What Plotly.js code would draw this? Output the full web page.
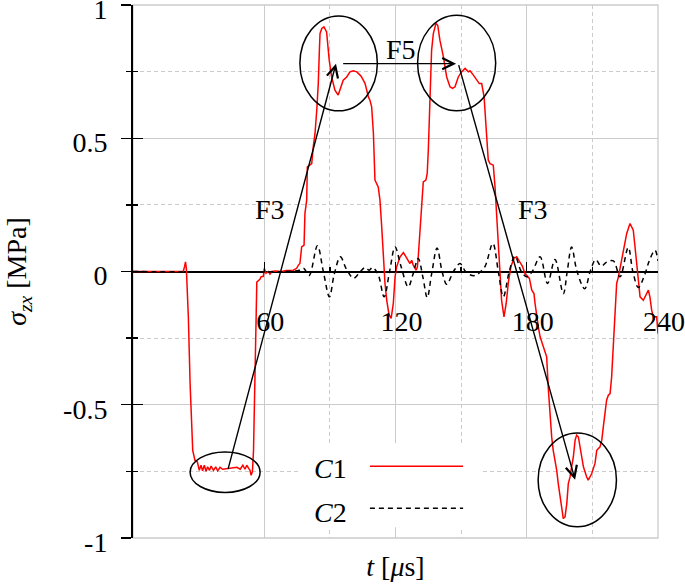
<!DOCTYPE html>
<html><head><meta charset="utf-8">
<script src="https://cdn.plot.ly/plotly-3.0.1.min.js"></script>
<style>html,body{margin:0;padding:0;background:#fff;} #chart{width:685px;height:587px;}</style>
</head><body><div id="chart"></div>
<script>
// ---- data ----
const c1T = [0,23.0,23.6,24.0,24.4,25.3,26.1,27.3,28.3,29.4,30.3,31.1,31.8,32.6,33.4,34.1,35.0,35.7,36.8,37.8,38.7,39.8,41.0,43.0,45.9,47.5,49.0,50.2,51.2,52.0,52.8,53.5,54.0,54.6,55.1,55.5,56.0,56.4,56.6,57.5,58.1,58.5,59.6,60.0,60.8,61.9,62.6,63.4,65,68,70,73.3,74.8,75.6,76.3,77.1,78.2,78.6,79.4,79.7,80.6,81.7,82.4,83.2,84.0,84.7,85.2,85.5,86.3,87.3,88.5,89.0,89.7,90.8,92.3,93.8,94.6,96.1,97.7,99.2,100.7,102.3,103.8,104.5,106.1,106.8,107.6,108.3,109.1,109.9,110.3,110.6,112.1,112.9,113.7,114.4,115.2,116.0,117.0,118.0,119.0,119.8,120.5,122.1,123.6,124.8,125.9,126.6,127.4,128.1,129.4,130.0,130.4,131.2,132.0,132.7,133.9,134.5,135.0,135.8,136.5,137.3,138.5,139.3,140.3,141.9,143.4,144.9,146.1,147.2,148.7,150.2,151.8,153.3,154.1,155.6,157.1,158.3,159.4,159.9,160.5,160.9,161.7,162.4,163.2,164.7,165.5,166.3,167.0,167.8,168.5,169.6,170.6,171.6,172.8,174.2,175.4,176.5,178.0,179.2,180.0,181.2,182.3,183.3,183.8,184.5,185.3,186.1,187.6,188.3,189.1,189.9,190.6,191.4,192.1,193.7,194.4,195.2,196.0,196.7,197.5,198.3,199.0,199.8,200.5,201.3,202.1,202.8,203.6,204.3,205.1,205.9,207.4,208.1,208.9,209.7,211.2,212.0,213.5,214.3,215.0,216.5,217.3,218.1,218.8,219.6,220.3,221.1,221.9,222.6,224.1,225.7,227.2,228.7,229.5,230.3,231.0,231.8,233.3,234.8,235.6,236.3,237.1,237.9,239.4,240];
const c1Y = [0,0,0.02,0.036,0.01,-0.17,-0.42,-0.671,-0.708,-0.714,-0.746,-0.727,-0.748,-0.727,-0.75,-0.733,-0.746,-0.73,-0.746,-0.733,-0.748,-0.735,-0.742,-0.74,-0.738,-0.735,-0.742,-0.727,-0.742,-0.727,-0.738,-0.746,-0.765,-0.75,-0.671,-0.483,-0.295,-0.107,-0.04,-0.033,-0.028,-0.02,-0.018,0.012,-0.007,0.0,-0.01,0.0,0.002,0.0,0.004,0.005,0.012,0.024,0.03,0.092,0.099,0.218,0.268,0.393,0.399,0.405,0.468,0.518,0.605,0.705,0.83,0.893,0.912,0.918,0.899,0.856,0.793,0.73,0.68,0.662,0.68,0.718,0.73,0.749,0.753,0.749,0.737,0.73,0.705,0.68,0.655,0.643,0.618,0.518,0.393,0.343,0.317,0.268,0.167,0.042,-0.045,-0.108,-0.16,-0.176,-0.12,-0.02,0.017,0.055,0.071,0.055,0.036,0.030,0.042,0.024,0.005,0.017,0.055,0.143,0.268,0.336,0.343,0.368,0.455,0.643,0.83,0.893,0.931,0.924,0.868,0.805,0.73,0.693,0.687,0.693,0.73,0.749,0.762,0.749,0.753,0.737,0.718,0.705,0.705,0.68,0.655,0.605,0.493,0.418,0.405,0.399,0.317,0.205,0.067,-0.033,-0.108,-0.17,-0.12,-0.04,0.02,0.05,0.055,0.04,0.02,-0.008,-0.014,-0.026,-0.07,-0.083,-0.12,-0.17,-0.208,-0.245,-0.283,-0.295,-0.32,-0.445,-0.546,-0.621,-0.671,-0.746,-0.796,-0.846,-0.896,-0.927,-0.921,-0.871,-0.796,-0.771,-0.733,-0.696,-0.633,-0.614,-0.621,-0.658,-0.696,-0.733,-0.771,-0.783,-0.771,-0.758,-0.72,-0.671,-0.658,-0.633,-0.583,-0.483,-0.464,-0.458,-0.396,-0.27,-0.145,-0.045,-0.02,0.01,0.067,0.143,0.18,0.155,0.092,0.017,-0.045,-0.095,-0.108,-0.083,-0.07,-0.095,-0.145,-0.17,-0.17,-0.233];
const c2T = [0,70,76,78,80.5,84.3,87,89.8,92,94.8,97.5,100.8,103.5,106,108,109.5,112,114.8,117.3,119.8,122.5,125.8,128,130.4,132.5,134.5,136.5,139,141.3,143.4,146.5,149.5,152,154,156.5,159,161,164.5,167,169.3,172,174.6,177.5,180,182.5,186.1,189.5,192.9,196.7,198.5,200.5,203,206.5,209,211.5,214,216.5,219.6,222.6,226.4,228.5,231,234,236,238.6,240];
const c2Y = [0,0,0.005,0.012,-0.015,0.097,0.0,-0.095,-0.01,0.055,0.01,-0.025,-0.005,0.015,0.005,0.015,-0.01,-0.095,0.0,0.092,0.02,-0.058,-0.01,0.049,-0.02,-0.098,-0.01,0.088,0.0,-0.048,0.0,0.03,0.0,-0.012,-0.015,0.0,0.02,0.105,0.0,-0.095,0.0,0.058,0.0,-0.02,0.0,0.055,-0.045,0.045,-0.083,0.0,0.092,0.0,-0.065,0.0,0.045,0.02,0.035,0.04,-0.02,0.09,0.0,-0.06,-0.01,0.04,0.08,0.04];
const seriesNames = ['C1','C2'];
const xTickVals = [60,120,180,240];
const xTickText = ['60','120','180','240'];
const xMinorVals = [90,150,210];
const yTickVals = [-1,-0.5,0,0.5,1];
const yTickText = ['-1','-0.5','0','0.5','1'];
const yMinorVals = [-0.75,-0.25,0.25,0.75];

// ---- styling ----
const GRID = '#cbcbcb';
const FONT = 'Liberation Serif, Times New Roman, serif';
const DASH = '4px,3px';

const traces = [
  {x:c1T, y:c1Y, name:seriesNames[0], type:'scatter', mode:'lines', xaxis:'x', yaxis:'y', line:{color:'#ff0000', width:1.5}, hoverinfo:'skip'},
  {x:c2T, y:c2Y, name:seriesNames[1], type:'scatter', mode:'lines', xaxis:'x2', yaxis:'y2', line:{color:'#000', width:1.5, dash:'5px,4px', shape:'spline', smoothing:1}, hoverinfo:'skip'}
];

const arrowBase = {xref:'x', yref:'y', axref:'x', ayref:'y', text:'', showarrow:true, arrowhead:5, arrowsize:1.6, arrowwidth:1.4, arrowcolor:'#000', standoff:0, startstandoff:0};

const layout = {
  width:685, height:587,
  margin:{l:133, r:27, t:5, b:49, pad:0},
  paper_bgcolor:'#fff', plot_bgcolor:'#fff',
  showlegend:false,
  font:{family:FONT, size:28, color:'#000'},
  xaxis:{range:[0,240], tickvals:xTickVals, showticklabels:false, ticks:'', showline:false, zeroline:false,
    showgrid:true, gridcolor:GRID, gridwidth:1,
    minor:{tickvals:xMinorVals, showgrid:true, gridcolor:GRID, gridwidth:1, griddash:DASH, ticks:''},
    title:{text:'<i>t</i> [<i>μ</i>s]', standoff:18, font:{family:FONT, size:28}}},
  xaxis2:{overlaying:'x', anchor:'free', position:0.5, range:[0,240], tickvals:xTickVals, ticktext:xTickText,
    ticks:'inside', ticklen:10, tickwidth:1.4, tickcolor:'#000', showline:false,
    showgrid:false, zeroline:false, ticklabelstandoff:30, ticklabelshift:6, ticklabeloverflow:'allow',
    tickfont:{family:FONT, size:28, color:'#000'},
    minor:{tickvals:xMinorVals, ticks:'inside', ticklen:5, tickwidth:1.4, tickcolor:'#000', showgrid:false}},
  yaxis:{range:[-1,1], tickvals:yTickVals, ticktext:yTickText, ticks:'outside', ticklen:10, tickwidth:1.4, tickcolor:'#000',
    showline:true, linecolor:'#000', linewidth:2, zeroline:true, zerolinecolor:'#000', zerolinewidth:2,
    showgrid:true, gridcolor:GRID, gridwidth:1, ticklabeloverflow:'allow',
    ticklabelshift:4, ticklabelstandoff:8, tickfont:{family:FONT, size:28, color:'#000'},
    minor:{tickvals:yMinorVals, ticks:'outside', ticklen:5, tickwidth:1.4, tickcolor:'#000', showgrid:true, gridcolor:GRID, gridwidth:1, griddash:DASH},
    title:{text:'<i>σ</i><sub><i>zx</i></sub> [MPa]', standoff:28, font:{family:FONT, size:28}}},
  yaxis2:{overlaying:'y', anchor:'x', side:'left', range:[-1,1], tickvals:yTickVals, showticklabels:false,
    ticks:'inside', ticklen:10, tickwidth:1.4, tickcolor:'#000', showline:false, zeroline:false, showgrid:false,
    minor:{tickvals:yMinorVals, ticks:'inside', ticklen:5, tickwidth:1.4, tickcolor:'#000', showgrid:false}},
  shapes:[
    {type:'rect', xref:'paper', yref:'paper', x0:0, x1:1, y0:0, y1:1, line:{color:GRID, width:1.3}, layer:'below'},
    // legend box and samples
    {type:'rect', xref:'x', yref:'y', x0:76.3, x1:160, y0:-0.96, y1:-0.644, fillcolor:'#fff', line:{width:0}, layer:'above'},
    {type:'line', xref:'x', yref:'y', x0:108.3, x1:150.9, y0:-0.731, y1:-0.731, line:{color:'#ff0000', width:1.5}},
    {type:'line', xref:'x', yref:'y', x0:108.3, x1:150.9, y0:-0.888, y1:-0.888, line:{color:'#000', width:1.5, dash:'5px,4px'}},
    // ellipses
    {type:'circle', xref:'x', yref:'y', x0:26.1, x1:58.1, y0:-0.829, y1:-0.677, line:{color:'#000', width:1.5}},
    {type:'circle', xref:'x', yref:'y', x0:76.3, x1:111.7, y0:0.603, y1:0.959, line:{color:'#000', width:1.5}},
    {type:'circle', xref:'x', yref:'y', x0:130.1, x1:165.8, y0:0.603, y1:0.962, line:{color:'#000', width:1.5}},
    {type:'circle', xref:'x', yref:'y', x0:185.2, x1:221.0, y0:-0.958, y1:-0.606, line:{color:'#000', width:1.5}}
  ],
  annotations:[
    Object.assign({}, arrowBase, {x:92.8, y:0.78, ax:43.3, ay:-0.746}),
    Object.assign({}, arrowBase, {x:147.7, y:0.78, ax:95.4, ay:0.78}),
    Object.assign({}, arrowBase, {x:202.1, y:-0.781, ax:148.7, ay:0.78}),
    {xref:'x', yref:'y', x:62.6, y:0.232, text:'F3', showarrow:false, font:{family:FONT, size:28, color:'#000'}},
    {xref:'x', yref:'y', x:122.5, y:0.832, text:'F5', showarrow:false, font:{family:FONT, size:28, color:'#000'}},
    {xref:'x', yref:'y', x:182.9, y:0.232, text:'F3', showarrow:false, font:{family:FONT, size:28, color:'#000'}},
    {xref:'x', yref:'y', x:90.1, y:-0.738, text:'<i>C</i>1', showarrow:false, font:{family:FONT, size:28, color:'#000'}},
    {xref:'x', yref:'y', x:90.5, y:-0.903, text:'<i>C</i>2', showarrow:false, font:{family:FONT, size:28, color:'#000'}}
  ]
};

Plotly.newPlot('chart', traces, layout, {staticPlot:true, displayModeBar:false});
</script>
</body></html>
